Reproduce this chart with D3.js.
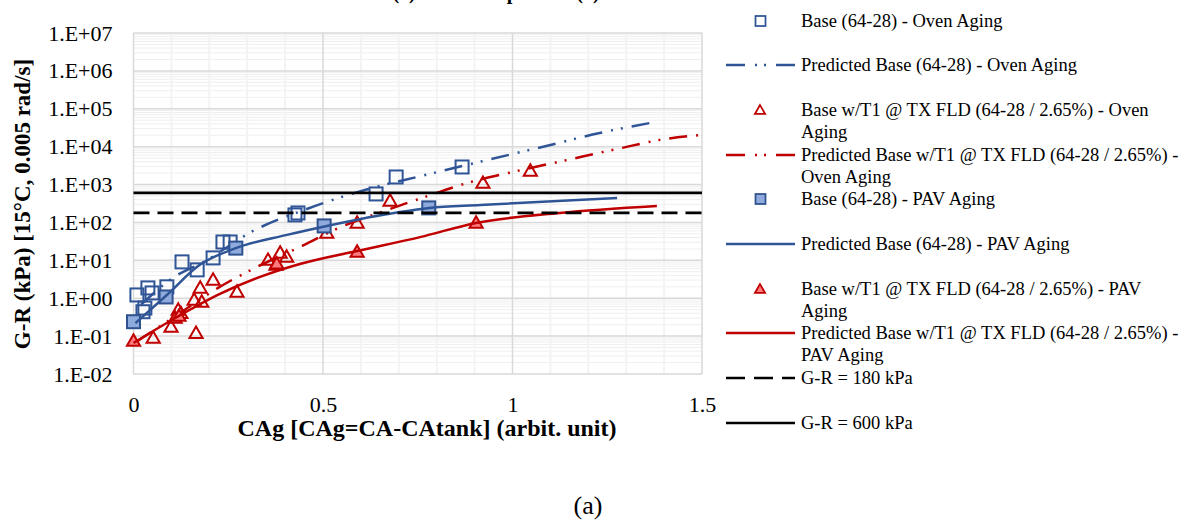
<!DOCTYPE html>
<html><head><meta charset="utf-8">
<script src="https://cdn.jsdelivr.net/npm/d3@7"></script>
<style>
html,body{margin:0;padding:0;background:#fff;}
svg{display:block;}
text{font-family:'Liberation Serif','Times New Roman',serif;fill:#000;}
</style>
</head><body>
<svg id="chart" width="1184" height="521"></svg>
<script>
// ---------- data ----------
const ovenBase = [[0.009,1.22],[0.038,1.87],[0.030,0.55],[0.025,0.44],[0.049,1.38],[0.088,2.0],
  [0.128,9.1],[0.168,5.6],[0.210,11.6],[0.236,30.5],[0.255,30.5],[0.426,158],[0.434,178],
  [0.640,565],[0.693,1585],[0.867,2910]];
const ovenBasePred = [[0.02,0.68],[0.112,3.9],[0.18,8.5],[0.32,63],[0.45,213],[0.62,766],
  [0.76,1690],[0.89,3500],[1.10,11100],[1.23,23000],[1.363,42200]];
const ovenT1 = [[0.052,0.09],[0.099,0.175],[0.165,0.12],[0.118,0.49],[0.125,0.40],[0.16,0.9],[0.18,0.8],
  [0.176,1.87],[0.21,3.04],[0.273,1.47],[0.355,10.2],[0.387,15.7],[0.404,12.3],[0.51,53],
  [0.59,97],[0.677,369],[0.922,1100],[1.047,2285]];
const ovenT1Pred = [[0.007,0.07],[0.123,0.41],[0.223,1.87],[0.326,6.7],[0.445,24],[0.542,72],
  [0.669,213],[0.769,471],[0.88,1096],[1.0,2140],[1.144,4450],[1.276,8700],[1.402,15900],[1.5,20400]];
const pavBase = [[0.0,0.24],[0.086,1.08],[0.27,21],[0.503,81],[0.779,242]];
const pavBasePred = [[0.005,0.22],[0.088,1.22],[0.175,7.6],[0.27,21],[0.405,47],[0.51,81],
  [0.703,189],[0.78,242],[0.915,290],[1.276,443]];
const pavT1 = [[0.0,0.075],[0.11,0.30],[0.12,0.34],[0.376,7.6],[0.378,8.2],[0.59,16.7],[0.904,97]];
const pavT1Pred = [[0.0,0.066],[0.115,0.32],[0.228,1.3],[0.334,3.65],[0.439,8.0],[0.59,17.7],
  [0.756,41],[0.904,97],[1.125,178],[1.381,272]];
const limit180 = [[0,180],[1.5,180]];
const limit600 = [[0,600],[1.5,600]];

const xTicks = [0, 0.5, 1, 1.5];
const xTickLabels = ["0", "0.5", "1", "1.5"];
const yTicks = [1e-2,1e-1,1e0,1e1,1e2,1e3,1e4,1e5,1e6,1e7];
const yTickLabels = ["1.E-02","1.E-01","1.E+00","1.E+01","1.E+02","1.E+03","1.E+04","1.E+05","1.E+06","1.E+07"];

const legendLabels = [
  ["Base (64-28) - Oven Aging"],
  ["Predicted Base (64-28) - Oven Aging"],
  ["Base w/T1 @ TX FLD (64-28 / 2.65%) - Oven","Aging"],
  ["Predicted Base w/T1 @ TX FLD (64-28 / 2.65%) -","Oven Aging"],
  ["Base (64-28) - PAV Aging"],
  ["Predicted Base (64-28) - PAV Aging"],
  ["Base w/T1 @ TX FLD (64-28 / 2.65%) - PAV","Aging"],
  ["Predicted Base w/T1 @ TX FLD (64-28 / 2.65%) -","PAV Aging"],
  ["G-R = 180 kPa"],
  ["G-R = 600 kPa"]
];

const titleText = "(a) Base Comparison (a)";
const xTitle = "CAg [CAg=CA-CAtank] (arbit. unit)";
const yTitle = "G-R (kPa) [15°C, 0.005 rad/s]";
const captionText = "(a)";

// ---------- styles ----------
const BLUE = "#2F5597", BLUE_FILL = "#8FAADC", BLUE_EDGE = "#2F528F";
const RED = "#C00000", RED_FILL = "#FF7C80";
const DASHDOT = "18,9,2,8,2,9";

const svg = d3.select("#chart");
const L = 133.5, R = 702, T = 33, B = 374;
const x = d3.scaleLinear().domain([0,1.5]).range([L,R]);
const y = d3.scaleLog().domain([1e-2,1e7]).range([B,T]);

// title (clipped at top as in reference)
svg.append("text").attr("x",496).attr("y",-1).attr("text-anchor","middle")
  .attr("font-size",20).attr("font-weight","bold").text(titleText);

// gridlines
const grid = svg.append("g");
const minorY = [];
for (let d=-2; d<7; d++) for (let k=2;k<=9;k++) minorY.push(k*Math.pow(10,d));
grid.selectAll(".my").data(minorY).enter().append("line")
  .attr("x1",L).attr("x2",R).attr("y1",d=>y(d)).attr("y2",d=>y(d))
  .attr("stroke","#efefef").attr("stroke-width",1);
const minorX = d3.range(1,15).filter(i=>i%5!==0).map(i=>i/10);
grid.selectAll(".mx").data(minorX).enter().append("line")
  .attr("x1",d=>x(d)).attr("x2",d=>x(d)).attr("y1",T).attr("y2",B)
  .attr("stroke","#f3f3f3").attr("stroke-width",2);
grid.selectAll(".My").data(yTicks).enter().append("line")
  .attr("x1",L).attr("x2",R).attr("y1",d=>y(d)).attr("y2",d=>y(d))
  .attr("stroke","#d9d9d9").attr("stroke-width",1.5);
grid.selectAll(".Mx").data(xTicks).enter().append("line")
  .attr("x1",d=>x(d)).attr("x2",d=>x(d)).attr("y1",T).attr("y2",B)
  .attr("stroke","#d9d9d9").attr("stroke-width",1.5);

// axes (labels only, as in reference)
const yAxis = d3.axisLeft(y).tickValues(yTicks).tickSize(0).tickPadding(21)
  .tickFormat((d,i)=>yTickLabels[i]);
const gy = svg.append("g").attr("transform",`translate(${L},0)`).call(yAxis);
gy.select(".domain").remove();
gy.selectAll("text").attr("font-size",22).style("font-family","'Liberation Serif','Times New Roman',serif");

const xAxis = d3.axisBottom(x).tickValues(xTicks).tickSize(0).tickPadding(22)
  .tickFormat((d,i)=>xTickLabels[i]);
const gx = svg.append("g").attr("transform",`translate(0,${B})`).call(xAxis);
gx.select(".domain").remove();
gx.selectAll("text").attr("font-size",22).style("font-family","'Liberation Serif','Times New Roman',serif");

svg.append("text").attr("x",427).attr("y",436).attr("text-anchor","middle")
  .attr("font-size",24).attr("font-weight","bold").text(xTitle);
svg.append("text").attr("transform","translate(30,204) rotate(-90)").attr("text-anchor","middle")
  .attr("font-size",23).attr("font-weight","bold").text(yTitle);
svg.append("text").attr("x",588).attr("y",514).attr("text-anchor","middle")
  .attr("font-size",26).text(captionText);

// helpers
const line = d3.line().x(d=>x(d[0])).y(d=>y(d[1])).curve(d3.curveMonotoneX);
const sq = 13, tri = d3.symbol().type(d3.symbolTriangle).size(75);
function drawLine(data, color, width, dash){
  svg.append("path").datum(data).attr("d",line).attr("fill","none")
    .attr("stroke",color).attr("stroke-width",width).attr("stroke-dasharray",dash||null);
}
function drawSquares(data, fill, stroke){
  svg.append("g").selectAll("rect").data(data).enter().append("rect")
    .attr("x",d=>x(d[0])-sq/2).attr("y",d=>y(d[1])-sq/2).attr("width",sq).attr("height",sq)
    .attr("fill",fill).attr("stroke",stroke).attr("stroke-width",2);
}
function drawTriangles(data, fill, stroke){
  svg.append("g").selectAll("path").data(data).enter().append("path")
    .attr("d",tri).attr("transform",d=>`translate(${x(d[0])},${y(d[1])+1})`)
    .attr("fill",fill).attr("stroke",stroke).attr("stroke-width",2);
}

// series in order
drawSquares(ovenBase,"none",BLUE);
drawLine(ovenBasePred,BLUE,2.5,DASHDOT);
drawTriangles(ovenT1,"none",RED);
drawLine(ovenT1Pred,RED,2.5,DASHDOT);
drawSquares(pavBase,BLUE_FILL,BLUE_EDGE);
drawLine(pavBasePred,BLUE,2.5);
drawTriangles(pavT1,RED_FILL,RED);
drawLine(pavT1Pred,RED,2.5);
drawLine(limit180,"#000",2.75,"16,8");
drawLine(limit600,"#000",2.75);

// legend
const legendY = [21,65,110,155,199,244,289,333,378,423];
const legendKind = ["sqOpen","dashBlue","triOpen","dashRed","sqFill","lineBlue","triFill","lineRed","dashBlack","lineBlack"];
const lg = svg.append("g");
legendLabels.forEach((lines,i)=>{
  const cy = legendY[i], k = legendKind[i];
  if (k==="sqOpen"||k==="sqFill"){
    lg.append("rect").attr("x",755.5).attr("y",cy-5).attr("width",10).attr("height",10)
      .attr("fill",k==="sqFill"?BLUE_FILL:"none").attr("stroke",k==="sqFill"?BLUE_EDGE:BLUE).attr("stroke-width",1.75);
  } else if (k==="triOpen"||k==="triFill"){
    lg.append("path").attr("d",d3.symbol().type(d3.symbolTriangle).size(45))
      .attr("transform",`translate(760,${cy+1})`)
      .attr("fill",k==="triFill"?RED_FILL:"none").attr("stroke",RED).attr("stroke-width",1.75);
  } else {
    const col = k.endsWith("Blue")?BLUE:(k.endsWith("Red")?RED:"#000");
    const dash = (k==="dashBlue"||k==="dashRed")?"19,10,2,7,2,10":(k==="dashBlack"?"19,9":null);
    lg.append("line").attr("x1",726).attr("x2",795).attr("y1",cy).attr("y2",cy)
      .attr("stroke",col).attr("stroke-width",2.5).attr("stroke-dasharray",dash);
  }
  lines.forEach((t,j)=>{
    lg.append("text").attr("x",801).attr("y",cy+6+j*21.5).attr("font-size",18.5).text(t);
  });
});
</script>
</body></html>
